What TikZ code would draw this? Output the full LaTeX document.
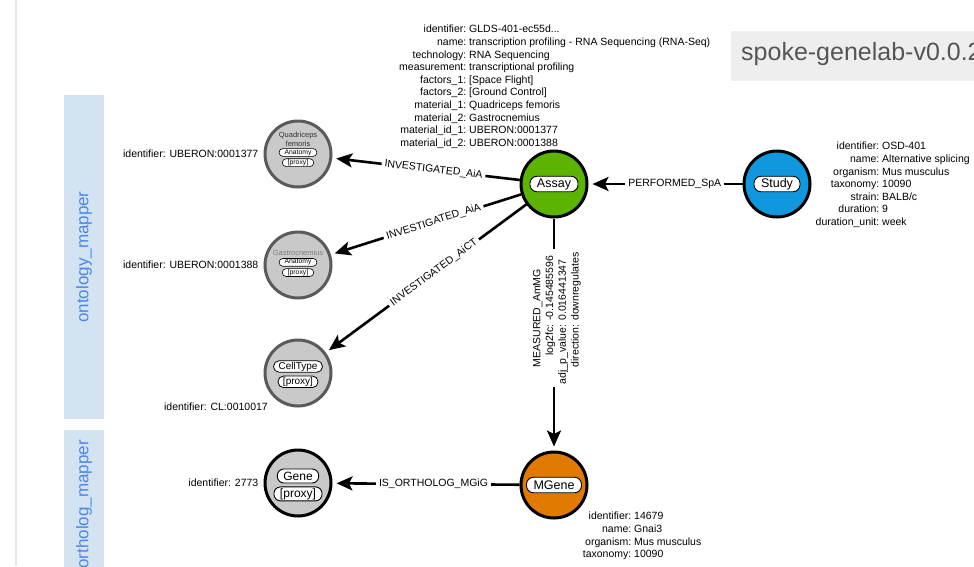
\documentclass[tikz,border=0pt]{standalone}
\usepackage{fontspec}
\setmainfont{Liberation Sans}
\usetikzlibrary{arrows.meta}
\usetikzlibrary{positioning}

\definecolor{assaygreen}{HTML}{5CB300}
\definecolor{studyblue}{HTML}{1098DE}
\definecolor{mgeneorange}{HTML}{E07A00}
\definecolor{proxygrey}{HTML}{C9C9C9}
\definecolor{proxyline}{HTML}{5A5A5A}
\definecolor{bandblue}{HTML}{D4E3F2}
\definecolor{bandtext}{HTML}{4C87E6}
\definecolor{titlegrey}{HTML}{EEEEEE}
\definecolor{titletext}{HTML}{555555}
\definecolor{rulegrey}{HTML}{E6E6E6}

\newcommand{\kv}[2]{\llap{#1:\ }#2}

\begin{document}
\begin{tikzpicture}[
				x=1pt, y=-1pt,
				arrow/.style={line width=2.6pt, -{Stealth[length=16pt, width=14pt, inset=3.5pt]}, shorten >=4pt},
				entity/.style={circle, draw=black, line width=3pt, minimum size=66pt, inner sep=0pt},
				proxy/.style={entity, draw=proxyline, fill=proxygrey},
				pill/.style={draw, fill=white, line width=0.9pt, rounded corners=7pt, minimum height=15.5pt, inner xsep=7pt, inner ysep=0pt, font=\fontsize{12.5}{14}\selectfont},
				genepill/.style={pill, rounded corners=6.5pt, minimum height=14pt, inner xsep=6pt, font=\fontsize{12}{14}\selectfont},
				midpill/.style={pill, line width=0.8pt, rounded corners=5.5pt, minimum height=11.5pt, inner xsep=5pt, font=\fontsize{10}{12}\selectfont},
				smallpill/.style={pill, line width=0.6pt, rounded corners=3.8pt, minimum height=7.8pt, inner xsep=5.5pt, font=\fontsize{6.8}{7}\selectfont},
				tinyname/.style={align=center, inner sep=0pt, font=\fontsize{7.5}{9}\selectfont},
				props/.style={inner sep=0pt, align=left, font=\fontsize{10.5}{12.6}\selectfont},
				elabel/.style={fill=white, inner sep=3pt, font=\fontsize{10.5}{12}\selectfont},
				bandlabel/.style={rotate=90, text=bandtext, inner sep=0pt, font=\fontsize{17}{20}\selectfont},
			]
				\useasboundingbox (0,0) rectangle (974,566);
				\clip (0,0) rectangle (974,566);

				\draw[rulegrey, line width=1.5pt] (16,0) -- (16,566);
				\fill[bandblue] (64,95) rectangle (104,419);
				\fill[bandblue] (64,430) rectangle (104,580);
				\node[bandlabel] (ontology) at (84,257) {ontology\_mapper};
				\node[bandlabel, anchor=east] (ortholog) at (84,440) {ortholog\_mapper};

				\fill[titlegrey] (731,31) rectangle (990,81);
				\node[anchor=base west, inner sep=0pt, text=titletext, font=\fontsize{25}{30}\selectfont] (title) at (741,60) {spoke-genelab-v0.0.2};

				\node[entity, fill=assaygreen] (assay) at (554,184) {};
				\node[pill] (assaylbl) at (assay) {Assay};
				\node[entity, fill=studyblue] (study) at (777,184) {};
				\node[pill] (studylbl) at (study) {Study};
				\node[entity, fill=mgeneorange] (mgene) at (554,485) {};
				\node[pill] (mgenelbl) at (mgene) {MGene};

				\node[proxy] (quad) at (298,154) {};
				\node[tinyname, text=black!80] (quadname) at (298,139) {Quadriceps\\femoris};
				\node[smallpill, below=1.8pt of quadname] (quadtype) {Anatomy};
				\node[smallpill, below=1.8pt of quadtype] (quadproxy) {[proxy]};

				\node[proxy] (gastro) at (298,265) {};
				\node[tinyname, text=black!50] (gastroname) at (298,253) {Gastrocnemius};
				\node[smallpill, below=2.2pt of gastroname] (gastrotype) {Anatomy};
				\node[smallpill, below=1.8pt of gastrotype] (gastroproxy) {[proxy]};

				\node[proxy] (cell) at (298,373) {};
				\node[midpill] (celllbl) at (298,366.5) {CellType};
				\node[midpill, below=3pt of celllbl] (cellproxy) {[proxy]};

				\node[proxy, draw=black] (gene) at (298,483) {};
				\node[genepill] (genelbl) at (298,476) {Gene};
				\node[genepill, below=3pt of genelbl] (geneproxy) {[proxy]};

				\node[props, anchor=north west] (assayprops) at (469,25) {\kv{identifier}{GLDS-401-ec55d...}\\
					\kv{name}{transcription profiling - RNA Sequencing (RNA-Seq)}\\
					\kv{technology}{RNA Sequencing}\\
					\kv{measurement}{transcriptional profiling}\\
					\kv{factors\_1}{[Space Flight]}\\
					\kv{factors\_2}{[Ground Control]}\\
					\kv{material\_1}{Quadriceps femoris}\\
					\kv{material\_2}{Gastrocnemius}\\
					\kv{material\_id\_1}{UBERON:0001377}\\
					\kv{material\_id\_2}{UBERON:0001388}};
				\node[props, anchor=north west] (studyprops) at (882,142) {\kv{identifier}{OSD-401}\\
					\kv{name}{Alternative splicing}\\
					\kv{organism}{Mus musculus}\\
					\kv{taxonomy}{10090}\\
					\kv{strain}{BALB/c}\\
					\kv{duration}{9}\\
					\kv{duration\_unit}{week}};
				\node[props, anchor=north west] (mgeneprops) at (634,512) {\kv{identifier}{14679}\\
					\kv{name}{Gnai3}\\
					\kv{organism}{Mus musculus}\\
					\kv{taxonomy}{10090}};
				\node[props, left=5pt of quad] (quadid) {identifier: UBERON:0001377};
				\node[props, left=5pt of gastro] (gastroid) {identifier: UBERON:0001388};
				\node[props, anchor=east] (cellid) at (268,407) {identifier: CL:0010017};
				\node[props, left=5pt of gene] (geneid) {identifier: 2773};

				\draw[arrow] (assay) -- node[elabel, sloped, pos=0.46] {INVESTIGATED\_AiA} (quad);
				\draw[arrow] (assay) -- node[elabel, sloped, pos=0.46] {INVESTIGATED\_AiA} (gastro);
				\draw[arrow] (assay) -- node[elabel, sloped, pos=0.46] {INVESTIGATED\_AiCT} (cell);
				\draw[arrow] (study) -- node[elabel, pos=0.44] {PERFORMED\_SpA} (assay);
				\draw[arrow] (assay) -- node[elabel, pos=0.43, xshift=3pt, rotate=90, font=\fontsize{10.5}{12.7}\selectfont] {\begin{tabular}{@{}r@{: }l@{}}
					\multicolumn{2}{@{}c@{}}{MEASURED\_AmMG}\\
					log2fc & -0.145485596\\
					adj\_p\_value & 0.016441347\\
					direction & downregulates
				\end{tabular}} (mgene);
				\draw[arrow] (mgene) -- node[elabel, pos=0.46] {IS\_ORTHOLOG\_MGiG} (gene);
			\end{tikzpicture}
\end{document}
